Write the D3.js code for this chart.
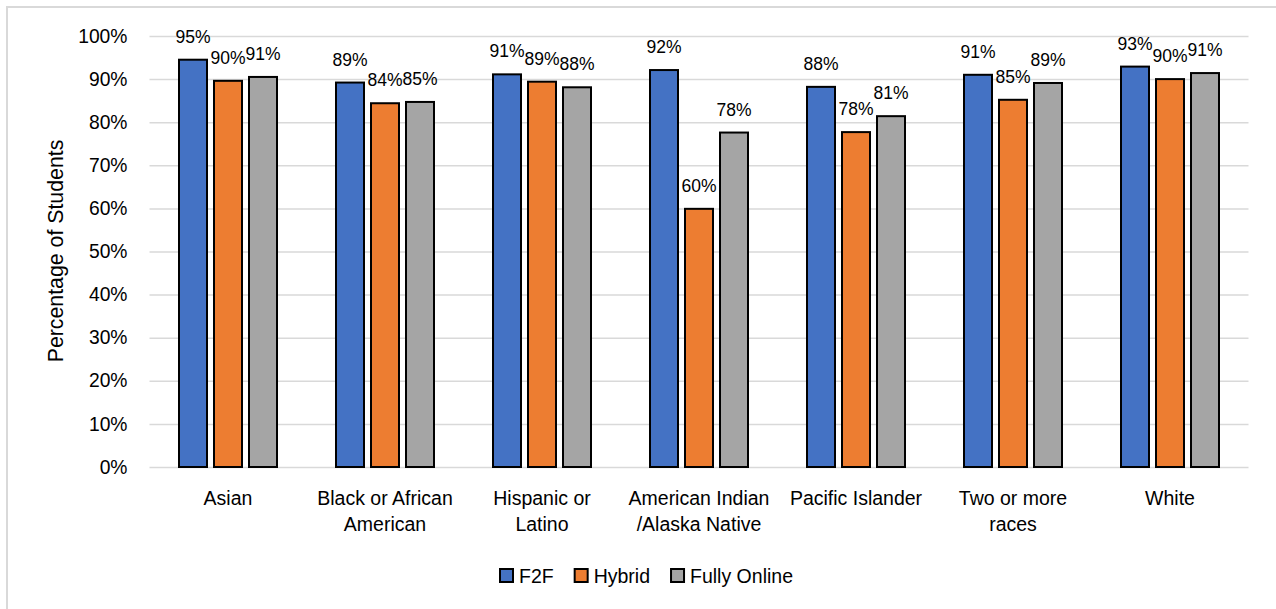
<!DOCTYPE html>
<html>
<head>
<meta charset="utf-8">
<script src="https://cdn.jsdelivr.net/npm/d3@7"></script>
<style>
  html, body { margin: 0; padding: 0; background: #fff; }
  svg { display: block; font-family: "Liberation Sans", Arial, sans-serif; }
</style>
</head>
<body>
<svg id="chart" width="1276" height="609"></svg>
<script>
const categories = [
  ["Asian"],
  ["Black or African", "American"],
  ["Hispanic or", "Latino"],
  ["American Indian", "/Alaska Native"],
  ["Pacific Islander"],
  ["Two or more", "races"],
  ["White"]
];
const seriesNames = ["F2F", "Hybrid", "Fully Online"];
const f2fValues = [94.5, 89.2, 91.1, 92.1, 88.2, 91.0, 92.9];
const hybridValues = [89.6, 84.4, 89.4, 59.9, 77.7, 85.2, 90.0];
const onlineValues = [90.5, 84.7, 88.1, 77.6, 81.4, 89.1, 91.4];
const yTicks = [0, 10, 20, 30, 40, 50, 60, 70, 80, 90, 100];
const colors = ["#4472C4", "#ED7D31", "#A5A5A5"];

const seriesValues = [f2fValues, hybridValues, onlineValues];
const catKeys = categories.map(c => c.join(" "));

const svg = d3.select("#chart");

// outer border (partially cropped in reference)
svg.append("rect")
  .attr("x", 7).attr("y", 7).attr("width", 1290).attr("height", 620)
  .attr("fill", "none").attr("stroke", "#d9d9d9").attr("stroke-width", 2);

const plotLeft = 149.5, plotRight = 1248.5, plotTop = 36, plotBottom = 467;

const x0 = d3.scaleBand().domain(catKeys).range([plotLeft, plotRight])
  .paddingInner(52 / 157).paddingOuter(26 / 157);
const x1 = d3.scaleBand().domain(seriesNames).range([0, x0.bandwidth()])
  .paddingInner(0.2).paddingOuter(0.1);
const y = d3.scaleLinear().domain([0, 100]).range([plotBottom, plotTop]);

// gridlines
const yAxis = d3.axisLeft(y).tickValues(yTicks)
  .tickSize(-(plotRight - plotLeft)).tickFormat(d => d + "%").tickPadding(22);
const gy = svg.append("g").attr("transform", `translate(${plotLeft},0)`).call(yAxis);
gy.select(".domain").remove();
gy.selectAll(".tick line").attr("stroke", "#d9d9d9").attr("stroke-width", 1.5);
gy.selectAll(".tick text").attr("font-size", 19.3).attr("fill", "#000")
  .attr("font-family", "'Liberation Sans', Arial, sans-serif");

// bars
const groups = svg.append("g").selectAll("g")
  .data(catKeys).join("g")
  .attr("transform", d => `translate(${x0(d)},0)`);

groups.each(function(cat, ci) {
  const g = d3.select(this);
  seriesNames.forEach((s, si) => {
    const v = seriesValues[si][ci];
    g.append("rect")
      .attr("x", x1(s)).attr("y", y(v))
      .attr("width", x1.bandwidth()).attr("height", y(0) - y(v))
      .attr("fill", colors[si]).attr("stroke", "#000").attr("stroke-width", 2);
    g.append("text")
      .attr("x", x1(s) + x1.bandwidth() / 2).attr("y", y(v) - 17)
      .attr("text-anchor", "middle").attr("font-size", 17.5).attr("fill", "#000")
      .text(Math.round(v) + "%");
  });
});

// category labels
const catG = svg.append("g");
categories.forEach((lines, ci) => {
  const t = catG.append("text")
    .attr("x", x0(catKeys[ci]) + x0.bandwidth() / 2)
    .attr("y", 505).attr("text-anchor", "middle")
    .attr("font-size", 19.5).attr("fill", "#000");
  lines.forEach((ln, li) => {
    t.append("tspan").attr("x", x0(catKeys[ci]) + x0.bandwidth() / 2)
      .attr("dy", li === 0 ? 0 : 26).text(ln);
  });
});

// y-axis title
svg.append("text")
  .attr("transform", "translate(63,251) rotate(-90)")
  .attr("text-anchor", "middle").attr("font-size", 21.3).attr("fill", "#000")
  .text("Percentage of Students");

// legend
const legend = svg.append("g");
let lx = 0;
seriesNames.forEach((s, si) => {
  const item = legend.append("g");
  item.append("rect").attr("x", 0).attr("y", -7).attr("width", 13).attr("height", 13)
    .attr("fill", colors[si]).attr("stroke", "#000").attr("stroke-width", 2);
  const t = item.append("text").attr("x", 19).attr("y", 7)
    .attr("font-size", 19.5).attr("fill", "#000").text(s);
  const w = 19 + t.node().getComputedTextLength();
  item.attr("transform", `translate(${lx},0)`);
  lx += w + 21;
});
const legendWidth = lx - 21;
legend.attr("transform", `translate(${646.5 - legendWidth / 2},576)`);
</script>
</body>
</html>
